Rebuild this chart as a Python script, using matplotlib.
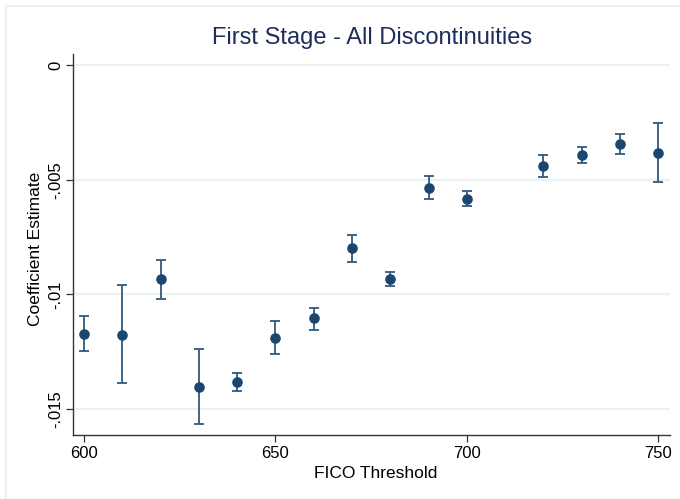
import numpy as np
import matplotlib
matplotlib.use('Agg')
import matplotlib.pyplot as plt
from matplotlib.lines import Line2D

plt.rcParams['font.family'] = ['Liberation Sans', 'DejaVu Sans']

# cutoffs and first stage coefficients with 95% CI bounds
threshold = [600, 610, 620, 630, 640, 650, 660, 670, 680, 690, 700, 720, 730, 740, 750]
coef = [-0.01172, -0.01176, -0.00934, -0.01403, -0.01381, -0.01189, -0.01105,
        -0.00798, -0.00933, -0.00535, -0.00583, -0.00440, -0.00392, -0.00346, -0.00382]
ci_hi = [-0.01093, -0.00959, -0.00849, -0.01237, -0.01343, -0.01116, -0.01058,
         -0.00743, -0.00904, -0.00485, -0.00551, -0.00394, -0.00358, -0.00300, -0.00253]
ci_lo = [-0.01247, -0.01388, -0.01020, -0.01567, -0.01422, -0.01262, -0.01154,
         -0.00858, -0.00962, -0.00586, -0.00615, -0.00490, -0.00426, -0.00389, -0.00510]

yticks = [0, -0.005, -0.01, -0.015]
ytick_labels = ['0', '-.005', '-.01', '-.015']
xticks = [600, 650, 700, 750]

navy = '#1a476f'
bar_col = '#33587e'

fig = plt.figure(figsize=(6.8, 4.99), dpi=100)
ax = fig.add_axes([73 / 680, 1 - 435 / 499, (670 - 73) / 680, (435 - 54) / 499])

# light frame of the graph region
fig.add_artist(Line2D([6 / 680, 1.0], [1 - 6 / 499, 1 - 6 / 499], color='#e6eef1', lw=1.2))
fig.add_artist(Line2D([6 / 680, 6 / 680], [0.0, 1 - 6 / 499], color='#e6eef1', lw=1.2))

x = np.array(threshold)
y = np.array(coef)
err = [y - np.array(ci_lo), np.array(ci_hi) - y]

for t in yticks:
    ax.axhline(t, color='#eaf1f3', lw=1.6, zorder=0)

ax.errorbar(x, y, yerr=err, fmt='none', ecolor=bar_col, elinewidth=1.3,
            capsize=3.8, capthick=1.3, zorder=2)
ax.plot(x, y, 'o', color=navy, markersize=6.6, zorder=3)

ax.set_xlim(597.1, 753.1)
ax.set_ylim(-0.01613, 0.00048)
ax.set_xticks(xticks)
ax.set_xticklabels([str(v) for v in xticks], fontsize=12)
ax.set_yticks(yticks)
ax.set_yticklabels(ytick_labels, fontsize=12, rotation=90, va='center')

for s in ['top', 'right']:
    ax.spines[s].set_visible(False)
for s in ['left', 'bottom']:
    ax.spines[s].set_color('#333333')
    ax.spines[s].set_linewidth(1.0)
ax.tick_params(axis='x', length=5, width=0.9, color='#333333', pad=3)
ax.tick_params(axis='y', length=5, width=0.9, color='#333333', pad=2)

ax.set_xlabel('FICO Threshold', fontsize=12.5, va='baseline')
ax.xaxis.set_label_coords(0.5075, -0.1136)
ax.set_ylabel('Coefficient Estimate', fontsize=12.5, va='center')
ax.yaxis.set_label_coords(-0.062, 0.488)
fig.text(371.7 / 680, 1 - 44.3 / 499, 'First Stage - All Discontinuities',
         ha='center', va='baseline', fontsize=17, color='#1e2d5a')

fig.savefig('out.png', dpi=100, facecolor='white')
